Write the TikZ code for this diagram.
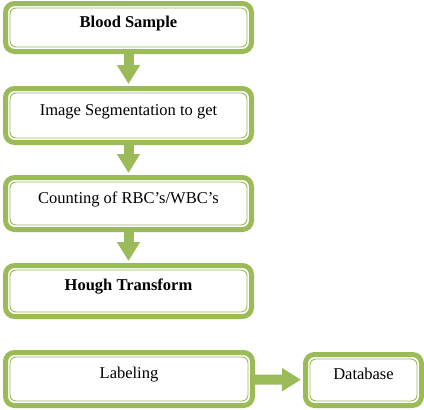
\documentclass[tikz,border=0pt]{standalone}
\usepackage{fontspec}
\setmainfont{Liberation Serif}
\usetikzlibrary{arrows.meta, positioning, calc}
\definecolor{leaf}{HTML}{9BBB59}

\begin{document}
\begin{tikzpicture}[x=1pt, y=-1pt,
  stepbox/.style={draw=leaf, line width=5pt, rounded corners=9pt, fill=white,
    minimum width=246pt, text height=11pt, text depth=12pt, font=\fontsize{16.5}{18}\selectfont,
    path picture={\draw[leaf, line width=0.9pt, rounded corners=6pt]
      ([shift={(4.5pt,-4.5pt)}]path picture bounding box.north west) rectangle
      ([shift={(-4.5pt,4.5pt)}]path picture bounding box.south east);}},
  flow/.style={leaf, line width=10pt, shorten >=2pt, -{Triangle[width=22pt, length=19pt]}},
]
\useasboundingbox (0,0) rectangle (424,410);

\node[stepbox, minimum height=48pt, font=\fontsize{16.5}{18}\selectfont\bfseries] (blood) at (128.5,27.5) {Blood Sample};
\node[stepbox, minimum height=54pt] (seg) at (128.5,115.5) {Image Segmentation to get};
\node[stepbox, minimum height=52pt] (count) at (128.5,203.5) {Counting of RBC’s/WBC’s};
\node[stepbox, minimum height=51pt, font=\fontsize{16.5}{18}\selectfont\bfseries] (hough) at (128.5,291) {Hough Transform};
\node[stepbox, minimum height=53pt, minimum width=247pt] (label) at (129,379) {Labeling};
\node[stepbox, minimum height=51pt, minimum width=116pt] (db) at (363.5,380) {Database};

\draw[flow] (blood) -- (seg);
\draw[flow] (seg) -- (count);
\draw[flow] (count) -- (hough);
\draw[flow] (label) -- (db);
\end{tikzpicture}
\end{document}
